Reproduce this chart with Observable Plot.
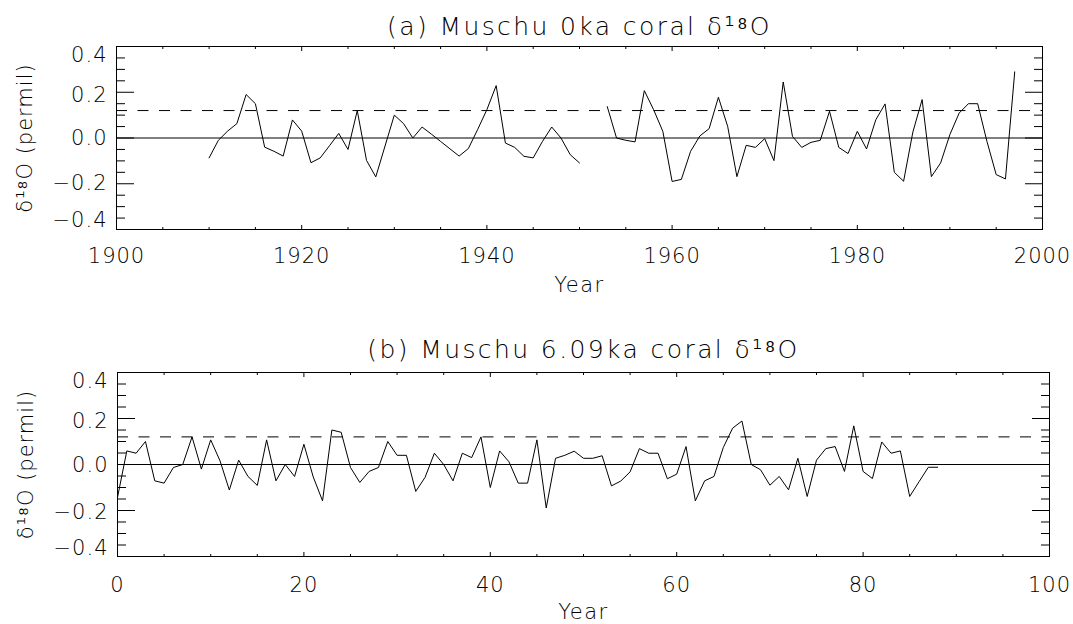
<!DOCTYPE html>
<html><head><meta charset="utf-8">
<script src="https://cdn.jsdelivr.net/npm/d3@7"></script>
<script src="https://cdn.jsdelivr.net/npm/@observablehq/plot@0.6"></script>
<style>
body{margin:0;background:#fff;}
svg{display:block}
</style>
</head><body><div id="chart"></div>
<script>
// ---------- Panel (a): Muschu 0ka coral d18O ----------
const titleA = "(a) Muschu 0ka coral δ¹⁸O";
const yearsA1 = [1910,1911,1912,1913,1914,1915,1916,1917,1918,1919,1920,1921,1922,1923,1924,1925,1926,1927,1928,1929,1930,1931,1932,1933,1934,1935,1936,1937,1938,1939,1940,1941,1942,1943,1944,1945,1946,1947,1948,1949,1950];
const valuesA1 = [-0.087,-0.010,0.030,0.063,0.190,0.150,-0.040,-0.058,-0.079,0.079,0.030,-0.108,-0.087,-0.034,0.020,-0.050,0.120,-0.098,-0.170,-0.035,0.100,0.063,0.000,0.048,0.017,-0.015,-0.047,-0.079,-0.046,0.037,0.124,0.229,-0.022,-0.041,-0.080,-0.087,-0.015,0.048,0.000,-0.073,-0.109];
const yearsA2 = [1953,1954,1955,1956,1957,1958,1959,1960,1961,1962,1963,1964,1965,1966,1967,1968,1969,1970,1971,1972,1973,1974,1975,1976,1977,1978,1979,1980,1981,1982,1983,1984,1985,1986,1987,1988,1989,1990,1991,1992,1993,1994,1995,1996,1997];
const valuesA2 = [0.137,0.000,-0.010,-0.017,0.207,0.124,0.029,-0.190,-0.181,-0.058,0.009,0.041,0.178,0.051,-0.169,-0.032,-0.041,-0.003,-0.099,0.245,0.007,-0.041,-0.019,-0.010,0.117,-0.041,-0.068,0.029,-0.048,0.080,0.149,-0.150,-0.189,0.026,0.168,-0.169,-0.109,0.015,0.109,0.150,0.150,-0.015,-0.160,-0.179,0.289];
const xDomainA = [1900, 2000];
const xMajorA = [1900, 1920, 1940, 1960, 1980, 2000];
const xMinorA = [1905,1910,1915,1925,1930,1935,1945,1950,1955,1965,1970,1975,1985,1990,1995];

// ---------- Panel (b): Muschu 6.09ka coral d18O ----------
const titleB = "(b) Muschu 6.09ka coral δ¹⁸O";
const yearsB = [0,1,2,3,4,5,6,7,8,9,10,11,12,13,14,15,16,17,18,19,20,21,22,23,24,25,26,27,28,29,30,31,32,33,34,35,36,37,38,39,40,41,42,43,44,45,46,47,48,49,50,51,52,53,54,55,56,57,58,59,60,61,62,63,64,65,66,67,68,69,70,71,72,73,74,75,76,77,78,79,80,81,82,83,84,85,86,87,88];
const valuesB = [-0.143,0.059,0.049,0.100,-0.071,-0.081,-0.013,0.000,0.120,-0.020,0.107,0.016,-0.111,0.019,-0.052,-0.091,0.107,-0.071,0.000,-0.052,0.088,-0.054,-0.158,0.150,0.140,-0.013,-0.078,-0.030,-0.013,0.100,0.040,0.040,-0.117,-0.056,0.049,0.000,-0.071,0.049,0.030,0.120,-0.100,0.059,0.012,-0.081,-0.081,0.107,-0.189,0.027,0.040,0.058,0.027,0.027,0.038,-0.093,-0.072,-0.032,0.069,0.049,0.049,-0.062,-0.042,0.078,-0.158,-0.071,-0.052,0.074,0.158,0.189,0.000,-0.023,-0.090,-0.052,-0.110,0.027,-0.139,0.019,0.069,0.078,-0.030,0.168,-0.030,-0.061,0.098,0.049,0.059,-0.139,-0.075,-0.012,-0.012];
const xDomainB = [0, 100];
const xMajorB = [0, 20, 40, 60, 80, 100];
const xMinorB = [5,10,15,25,30,35,45,50,55,65,70,75,85,90,95];

// ---------- shared ----------
const yDomain = [-0.4, 0.4];
const yMajor = [-0.4, -0.2, 0.0, 0.2, 0.4];
const yMinor = [-0.35,-0.3,-0.25,-0.15,-0.1,-0.05,0.05,0.1,0.15,0.25,0.3,0.35];
const threshold = 0.12;
const yLabel = "δ¹⁸O (permil)";
const xLabel = "Year";

const FONT = "'DejaVu Sans', sans-serif";
const fmtY = d3.format(".1f");
const fmtX = d3.format("d");

function panel({years, values, xDomain, xMajor, xMinor, title, titleDy, mt, mb, ml, mr, xPad, labelDy, yOffsets}) {
  const data = years.map((x, i) => ({x, y: values[i]}));
  const textY = (ticks, dy) => Plot.axisY(ticks, {anchor: "left", tickSize: 0, tickPadding: 9, dy, tickFormat: fmtY, label: null, fontSize: 21, fontWeight: 200, stroke: "none"});
  const svg = Plot.plot({
    width: 1073, height: 312,
    marginTop: mt, marginBottom: mb, marginLeft: ml, marginRight: mr,
    x: {domain: xDomain},
    y: {domain: yDomain},
    style: {fontFamily: FONT, fontSize: "21px", color: "#000", background: "#fff", letterSpacing: "1px"},
    marks: [
      Plot.ruleY([0], {stroke: "#000", strokeWidth: 1}),
      Plot.ruleY([threshold], {stroke: "#000", strokeWidth: 1, strokeDasharray: "11,10.5"}),
      Plot.line(data, {x: "x", y: "y", stroke: "#000", strokeWidth: 1}),
      Plot.frame({stroke: "#000", strokeWidth: 1}),
      // inward ticks
      Plot.axisY(yMajor, {anchor: "left", tickSize: 18, dx: 18, fill: "none", label: null}),
      Plot.axisY(yMinor, {anchor: "left", tickSize: 9, dx: 9, fill: "none", label: null}),
      Plot.axisY(yMajor, {anchor: "right", tickSize: 18, dx: -18, fill: "none", label: null}),
      Plot.axisY(yMinor, {anchor: "right", tickSize: 9, dx: -9, fill: "none", label: null}),
      Plot.axisX(xMajor, {anchor: "bottom", tickSize: 4, dy: -4, fill: "none", label: null}),
      Plot.axisX(xMinor, {anchor: "bottom", tickSize: 2, dy: -2, fill: "none", label: null}),
      Plot.axisX(xMajor, {anchor: "top", tickSize: 4, dy: 4, fill: "none", label: null}),
      Plot.axisX(xMinor, {anchor: "top", tickSize: 2, dy: 2, fill: "none", label: null}),
      // tick labels
      Plot.axisX(xMajor, {anchor: "bottom", tickSize: 0, tickPadding: xPad, tickFormat: fmtX, label: null, fontSize: 21, fontWeight: 200, stroke: "none"}),
      textY([0.4], yOffsets[0]),
      textY([0.2], yOffsets[1]),
      textY([0.0], yOffsets[2]),
      textY([-0.2], yOffsets[3]),
      textY([-0.4], yOffsets[4]),
      // titles and axis labels
      Plot.text([title], {text: d => d, frameAnchor: "top", lineAnchor: "bottom", dy: titleDy, fontSize: 25, fontWeight: 200}),
      Plot.text([xLabel], {text: d => d, frameAnchor: "bottom", lineAnchor: "middle", dy: labelDy, fontSize: 21, fontWeight: 200}),
      Plot.text([yLabel], {text: d => d, frameAnchor: "left", lineAnchor: "middle", textAnchor: "middle", rotate: -90, dx: -91, fontSize: 21, fontWeight: 200})
    ]
  });
  const s = d3.select(svg);
  s.selectAll("text").filter(function() { return this.textContent === title; }).style("letter-spacing", "2.4px");
  s.selectAll("text").filter(function() { return this.textContent === xLabel; }).style("letter-spacing", "1.5px");
  return svg;
}

const chart = document.getElementById("chart");
chart.appendChild(panel({
  years: [...yearsA1, 1951, ...yearsA2],
  values: [...valuesA1, null, ...valuesA2],
  xDomain: xDomainA, xMajor: xMajorA, xMinor: xMinorA,
  title: titleA, titleDy: -12,
  mt: 46, mb: 83, ml: 116, mr: 31, xPad: 19, labelDy: 56,
  yOffsets: [9, 3, 0, 0, -9]
}));
chart.appendChild(panel({
  years: yearsB, values: valuesB,
  xDomain: xDomainB, xMajor: xMajorB, xMinor: xMinorB,
  title: titleB, titleDy: -15,
  mt: 60, mb: 68, ml: 117, mr: 24, xPad: 21, labelDy: 56,
  yOffsets: [9, 3, 1, 2, -8]
}));
</script>
</body></html>
